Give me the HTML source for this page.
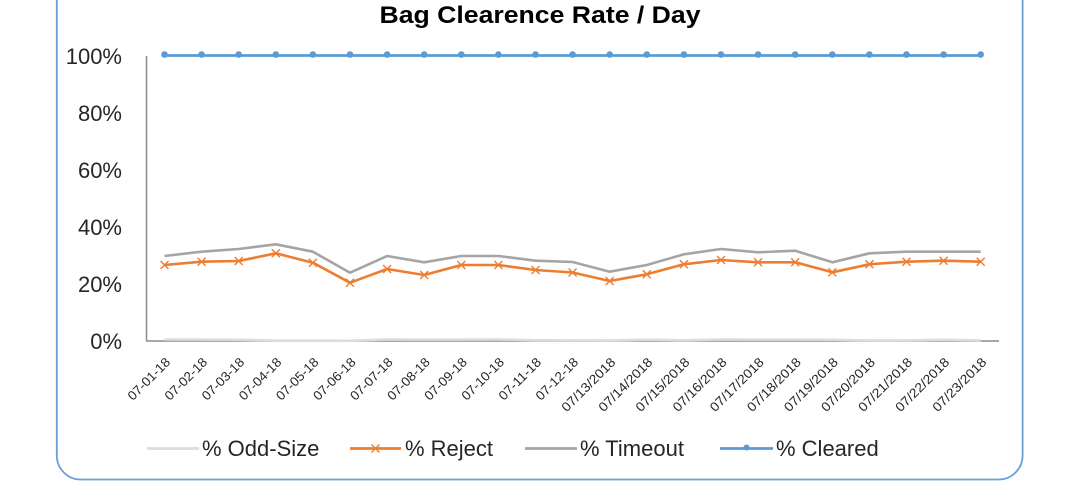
<!DOCTYPE html>
<html>
<head>
<meta charset="utf-8">
<style>
  html,body{margin:0;padding:0;background:#fff;}
  body{width:1075px;height:496px;overflow:hidden;}
  svg{display:block;}
  text{font-family:"Liberation Sans",sans-serif;}
</style>
</head>
<body>
<svg width="1075" height="496" viewBox="0 0 1075 496" xmlns="http://www.w3.org/2000/svg">
  <rect x="0" y="0" width="1075" height="496" fill="#fff"/>
  <!-- chart border -->
  <rect x="56.8" y="-40" width="965.8" height="519.5" rx="24" ry="24" fill="none" stroke="#6a9fd8" stroke-width="1.8"/>

  <!-- title -->
  <text x="540" y="23" text-anchor="middle" font-size="24" font-weight="bold" fill="#000" textLength="321" lengthAdjust="spacingAndGlyphs">Bag Clearence Rate / Day</text>

  <!-- y axis labels -->
  <g font-size="22" fill="#262626" text-anchor="end">
    <text x="122" y="64">100%</text>
    <text x="122" y="121">80%</text>
    <text x="122" y="178">60%</text>
    <text x="122" y="235">40%</text>
    <text x="122" y="292">20%</text>
    <text x="122" y="349">0%</text>
  </g>

  <!-- axes -->
  <line x1="146.5" y1="56" x2="146.5" y2="341" stroke="#8c8c8c" stroke-width="1.5"/>
  <line x1="146" y1="341" x2="999" y2="341" stroke="#8c8c8c" stroke-width="1.5"/>

  <!-- odd-size -->
  <polyline fill="none" stroke="#dcdcdc" stroke-width="2.5" stroke-linejoin="round"
    points="164.5,339.5 201.6,339.6 238.7,339.8 275.8,340.6 312.9,340.6 350,340.7 387.1,339.5 424.2,339.6 461.3,339.6 498.4,339.5 535.5,340.2 572.6,340.4 609.7,340.5 646.8,339.6 683.9,340.3 721,339.5 758.1,339.6 795.2,339.6 832.3,339.8 869.4,340.5 906.5,340.4 943.6,339.8 980.7,340.4"/>

  <!-- timeout -->
  <polyline fill="none" stroke="#a5a5a5" stroke-width="2.6" stroke-linejoin="round"
    points="164.5,256 201.6,251.7 238.7,249 275.8,244.3 312.9,251.7 350,272.7 387.1,256 424.2,262.3 461.3,256 498.4,256 535.5,260.7 572.6,262 609.7,271.7 646.8,265 683.9,254.3 721,249 758.1,252.3 795.2,250.7 832.3,262.3 869.4,253.3 906.5,251.7 943.6,251.7 980.7,251.7"/>

  <!-- reject -->
  <polyline fill="none" stroke="#ed7d31" stroke-width="2.6" stroke-linejoin="round"
    points="164.5,265 201.6,261.7 238.7,261 275.8,253.3 312.9,262.7 350,282.7 387.1,269 424.2,275 461.3,265 498.4,265 535.5,270 572.6,272.5 609.7,281 646.8,274.3 683.9,264.3 721,260 758.1,262.3 795.2,262.3 832.3,272.3 869.4,264.3 906.5,261.7 943.6,260.7 980.7,261.7"/>
  <g stroke="#ed7d31" stroke-width="1.4" fill="none">
    <path d="M160.5,261 l8,8 m0,-8 l-8,8"/>
    <path d="M197.6,257.7 l8,8 m0,-8 l-8,8"/>
    <path d="M234.7,257 l8,8 m0,-8 l-8,8"/>
    <path d="M271.8,249.3 l8,8 m0,-8 l-8,8"/>
    <path d="M308.9,258.7 l8,8 m0,-8 l-8,8"/>
    <path d="M346,278.7 l8,8 m0,-8 l-8,8"/>
    <path d="M383.1,265 l8,8 m0,-8 l-8,8"/>
    <path d="M420.2,271 l8,8 m0,-8 l-8,8"/>
    <path d="M457.3,261 l8,8 m0,-8 l-8,8"/>
    <path d="M494.4,261 l8,8 m0,-8 l-8,8"/>
    <path d="M531.5,266 l8,8 m0,-8 l-8,8"/>
    <path d="M568.6,268.5 l8,8 m0,-8 l-8,8"/>
    <path d="M605.7,277 l8,8 m0,-8 l-8,8"/>
    <path d="M642.8,270.3 l8,8 m0,-8 l-8,8"/>
    <path d="M679.9,260.3 l8,8 m0,-8 l-8,8"/>
    <path d="M717,256 l8,8 m0,-8 l-8,8"/>
    <path d="M754.1,258.3 l8,8 m0,-8 l-8,8"/>
    <path d="M791.2,258.3 l8,8 m0,-8 l-8,8"/>
    <path d="M828.3,268.3 l8,8 m0,-8 l-8,8"/>
    <path d="M865.4,260.3 l8,8 m0,-8 l-8,8"/>
    <path d="M902.5,257.7 l8,8 m0,-8 l-8,8"/>
    <path d="M939.6,256.7 l8,8 m0,-8 l-8,8"/>
    <path d="M976.7,257.7 l8,8 m0,-8 l-8,8"/>
  </g>

  <!-- cleared -->
  <line x1="164.5" y1="55.5" x2="980.7" y2="55.5" stroke="#5b9bd5" stroke-width="2.8"/>
  <g fill="#5b9bd5">
    <circle cx="164.5" cy="54.5" r="3.3"/><circle cx="201.6" cy="54.5" r="3.3"/><circle cx="238.7" cy="54.5" r="3.3"/>
    <circle cx="275.8" cy="54.5" r="3.3"/><circle cx="312.9" cy="54.5" r="3.3"/><circle cx="350" cy="54.5" r="3.3"/>
    <circle cx="387.1" cy="54.5" r="3.3"/><circle cx="424.2" cy="54.5" r="3.3"/><circle cx="461.3" cy="54.5" r="3.3"/>
    <circle cx="498.4" cy="54.5" r="3.3"/><circle cx="535.5" cy="54.5" r="3.3"/><circle cx="572.6" cy="54.5" r="3.3"/>
    <circle cx="609.7" cy="54.5" r="3.3"/><circle cx="646.8" cy="54.5" r="3.3"/><circle cx="683.9" cy="54.5" r="3.3"/>
    <circle cx="721" cy="54.5" r="3.3"/><circle cx="758.1" cy="54.5" r="3.3"/><circle cx="795.2" cy="54.5" r="3.3"/>
    <circle cx="832.3" cy="54.5" r="3.3"/><circle cx="869.4" cy="54.5" r="3.3"/><circle cx="906.5" cy="54.5" r="3.3"/>
    <circle cx="943.6" cy="54.5" r="3.3"/><circle cx="980.7" cy="54.5" r="3.3"/>
  </g>

  <!-- x labels -->
  <g font-size="13" fill="#262626" text-anchor="end">
    <text transform="translate(171,363) rotate(-45)" textLength="54" lengthAdjust="spacingAndGlyphs">07-01-18</text>
    <text transform="translate(208.1,363) rotate(-45)" textLength="54" lengthAdjust="spacingAndGlyphs">07-02-18</text>
    <text transform="translate(245.2,363) rotate(-45)" textLength="54" lengthAdjust="spacingAndGlyphs">07-03-18</text>
    <text transform="translate(282.3,363) rotate(-45)" textLength="54" lengthAdjust="spacingAndGlyphs">07-04-18</text>
    <text transform="translate(319.4,363) rotate(-45)" textLength="54" lengthAdjust="spacingAndGlyphs">07-05-18</text>
    <text transform="translate(356.5,363) rotate(-45)" textLength="54" lengthAdjust="spacingAndGlyphs">07-06-18</text>
    <text transform="translate(393.6,363) rotate(-45)" textLength="54" lengthAdjust="spacingAndGlyphs">07-07-18</text>
    <text transform="translate(430.7,363) rotate(-45)" textLength="54" lengthAdjust="spacingAndGlyphs">07-08-18</text>
    <text transform="translate(467.8,363) rotate(-45)" textLength="54" lengthAdjust="spacingAndGlyphs">07-09-18</text>
    <text transform="translate(504.9,363) rotate(-45)" textLength="54" lengthAdjust="spacingAndGlyphs">07-10-18</text>
    <text transform="translate(542,363) rotate(-45)" textLength="54" lengthAdjust="spacingAndGlyphs">07-11-18</text>
    <text transform="translate(579.1,363) rotate(-45)" textLength="54" lengthAdjust="spacingAndGlyphs">07-12-18</text>
    <text transform="translate(616.2,363) rotate(-45)" textLength="70" lengthAdjust="spacingAndGlyphs">07/13/2018</text>
    <text transform="translate(653.3,363) rotate(-45)" textLength="70" lengthAdjust="spacingAndGlyphs">07/14/2018</text>
    <text transform="translate(690.4,363) rotate(-45)" textLength="70" lengthAdjust="spacingAndGlyphs">07/15/2018</text>
    <text transform="translate(727.5,363) rotate(-45)" textLength="70" lengthAdjust="spacingAndGlyphs">07/16/2018</text>
    <text transform="translate(764.6,363) rotate(-45)" textLength="70" lengthAdjust="spacingAndGlyphs">07/17/2018</text>
    <text transform="translate(801.7,363) rotate(-45)" textLength="70" lengthAdjust="spacingAndGlyphs">07/18/2018</text>
    <text transform="translate(838.8,363) rotate(-45)" textLength="70" lengthAdjust="spacingAndGlyphs">07/19/2018</text>
    <text transform="translate(875.9,363) rotate(-45)" textLength="70" lengthAdjust="spacingAndGlyphs">07/20/2018</text>
    <text transform="translate(913,363) rotate(-45)" textLength="70" lengthAdjust="spacingAndGlyphs">07/21/2018</text>
    <text transform="translate(950.1,363) rotate(-45)" textLength="70" lengthAdjust="spacingAndGlyphs">07/22/2018</text>
    <text transform="translate(987.2,363) rotate(-45)" textLength="70" lengthAdjust="spacingAndGlyphs">07/23/2018</text>
  </g>

  <!-- legend -->
  <line x1="147" y1="448.5" x2="199" y2="448.5" stroke="#dcdcdc" stroke-width="2.8"/>
  <text x="202" y="456" font-size="22" fill="#262626">% Odd-Size</text>

  <line x1="350" y1="448.5" x2="401" y2="448.5" stroke="#ed7d31" stroke-width="2.8"/>
  <path d="M371.5,444.5 l8,8 m0,-8 l-8,8" stroke="#ed7d31" stroke-width="1.4" fill="none"/>
  <text x="405" y="456" font-size="22" fill="#262626">% Reject</text>

  <line x1="525" y1="448.5" x2="577" y2="448.5" stroke="#a5a5a5" stroke-width="2.8"/>
  <text x="580" y="456" font-size="22" fill="#262626">% Timeout</text>

  <line x1="720" y1="448.5" x2="773" y2="448.5" stroke="#5b9bd5" stroke-width="2.8"/>
  <circle cx="746.5" cy="447.5" r="3" fill="#5b9bd5"/>
  <text x="776" y="456" font-size="22" fill="#262626">% Cleared</text>
</svg>
</body>
</html>
